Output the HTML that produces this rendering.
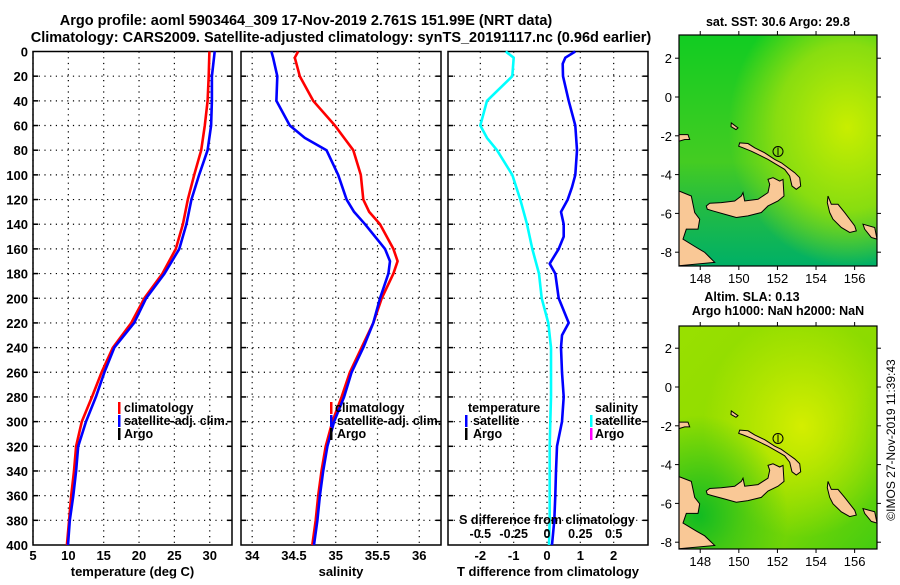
<!DOCTYPE html>
<html><head><meta charset="utf-8"><style>
body{margin:0;background:#fff;width:900px;height:580px;overflow:hidden}
svg{font-family:"Liberation Sans",sans-serif;font-weight:bold}
</style></head><body>
<svg id="c" width="900" height="580" viewBox="0 0 900 580">
<defs>
<radialGradient id="sstY" cx="0.85" cy="0.4" r="0.6"><stop offset="0" stop-color="#c8ee00"/><stop offset="0.6" stop-color="#88dd10"/><stop offset="1" stop-color="#88dd10" stop-opacity="0"/></radialGradient>
<linearGradient id="sstB" x1="0" y1="0" x2="0" y2="1"><stop offset="0" stop-color="#11cc22"/><stop offset="0.55" stop-color="#44cc22"/><stop offset="0.75" stop-color="#22bb44"/><stop offset="1" stop-color="#00b066"/></linearGradient>
<radialGradient id="slaY" cx="0.62" cy="0.45" r="0.5"><stop offset="0" stop-color="#d4ee00"/><stop offset="1" stop-color="#d4ee00" stop-opacity="0"/></radialGradient>
<linearGradient id="slaB" x1="0" y1="0" x2="1" y2="1"><stop offset="0" stop-color="#99e000"/><stop offset="0.6" stop-color="#8ada00"/><stop offset="1" stop-color="#44cc11"/></linearGradient>
<radialGradient id="slaG" cx="0.1" cy="0.85" r="0.45"><stop offset="0" stop-color="#11bb22"/><stop offset="1" stop-color="#11bb22" stop-opacity="0"/></radialGradient>
</defs>
<text x="306" y="25" font-size="14.5" text-anchor="middle">Argo profile: aoml 5903464_309 17-Nov-2019 2.761S 151.99E (NRT data)</text>
<text x="341" y="42" font-size="14.5" text-anchor="middle">Climatology: CARS2009. Satellite-adjusted climatology: synTS_20191117.nc (0.96d earlier)</text>
<g id="p1"></g>
<g id="p2"></g>
<g id="p3"></g>
<g id="m1"></g>
<g id="m2"></g>
<text transform="translate(895,440) rotate(-90)" font-size="12" font-weight="normal" text-anchor="middle">©IMOS 27-Nov-2019 11:39:43</text>
</svg>
<script>
const depthsT=[0,20,40,60,80,100,120,140,160,180,200,220,240,260,280,300,320,340,360,380,400];
const tempClim=[29.95,29.85,29.7,29.3,28.8,27.8,26.9,26.2,25.2,23.3,20.75,18.9,16.3,14.7,13.35,11.9,11.1,10.8,10.4,10.1,9.8];
const tempSat=[30.7,30.3,30.3,30.2,29.7,28.5,27.4,26.7,25.7,23.6,21,19.3,16.5,15.1,13.9,12.5,11.4,11.1,10.7,10.2,9.95];
const depthsS=[0,5,20,40,60,70,80,100,120,130,140,160,170,180,200,220,240,260,280,300,320,340,360,380,400];
const salClim=[34.55,34.51,34.57,34.73,34.99,35.10,35.21,35.30,35.33,35.40,35.53,35.69,35.74,35.69,35.55,35.45,35.31,35.17,35.07,34.96,34.88,34.83,34.79,34.76,34.72];
const salSat=[34.23,34.25,34.30,34.29,34.45,34.63,34.89,35.03,35.13,35.22,35.35,35.59,35.65,35.63,35.53,35.45,35.33,35.19,35.1,34.98,34.9,34.85,34.81,34.78,34.74];
const depthsDT=[0,5,10,20,40,60,80,100,110,120,130,140,150,160,172,180,200,220,230,240,260,280,300,320,340,360,380,400];
const tDiff=[0.85,0.55,0.47,0.48,0.65,0.85,0.9,0.85,0.75,0.62,0.42,0.5,0.5,0.35,0.08,0.25,0.35,0.65,0.45,0.42,0.45,0.5,0.45,0.3,0.27,0.25,0.22,0.15];
const depthsDS=[0,5,20,40,60,70,80,100,120,140,160,180,200,220,240,260,280,300,320,340,360,380,400];
const sDiff=[-0.31,-0.25,-0.26,-0.45,-0.5,-0.45,-0.375,-0.26,-0.2,-0.15,-0.11,-0.06,-0.04,0.01,0.03,0.03,0.03,0.025,0.02,0.02,0.02,0.02,0.015];
const depthTicks=[0,20,40,60,80,100,120,140,160,180,200,220,240,260,280,300,320,340,360,380,400];
const tempTicks=[5,10,15,20,25,30];
const salTicks=[34,34.5,35,35.5,36];
const tdTicks=[-2,-1,0,1,2];
const sdTicks=[-0.5,-0.25,0,0.25,0.5];

const NS='http://www.w3.org/2000/svg';
function mk(parent,tag,at,txt){const e=document.createElementNS(NS,tag);for(const k in at)e.setAttribute(k,at[k]);if(txt!==undefined)e.textContent=txt;parent.appendChild(e);return e;}
const Y0=51.5,Y1=545;
const yS=d=>Y0+d*(Y1-Y0)/400;

function panel(g,x0,x1,lo,hi,ticks,fmt,showY,xlabel){
  const xS=v=>x0+(v-lo)/(hi-lo)*(x1-x0);
  depthTicks.forEach(d=>{const y=yS(d);
    if(d>0&&d<400){const l=mk(g,'line',{x1:x0,x2:x1,y1:y,y2:y,stroke:'#000','stroke-width':1.2,'stroke-dasharray':'1.2 4.5'});
    
    mk(g,'line',{x1:x0,x2:x0+5,y1:y,y2:y,stroke:'#000','stroke-width':1.5});
    mk(g,'line',{x1:x1-5,x2:x1,y1:y,y2:y,stroke:'#000','stroke-width':1.5});}
    if(showY){const t=mk(g,'text',{x:28,y:y+5,'font-size':13,'text-anchor':'end'},d);
    }
  });
  ticks.forEach(v=>{const x=xS(v);
    const l=mk(g,'line',{x1:x,x2:x,y1:Y0,y2:Y1,stroke:'#000','stroke-width':1.2,'stroke-dasharray':'1.2 4.5'});
    
    const t=mk(g,'text',{x:x,y:560,'font-size':13,'text-anchor':'middle'},fmt(v));
    });
  const r=mk(g,'rect',{x:x0,y:Y0,width:x1-x0,height:Y1-Y0,fill:'none',stroke:'#000','stroke-width':1.5});
  
  const xl=mk(g,'text',{x:(x0+x1)/2,y:576,'font-size':13,'text-anchor':'middle'},xlabel);
  
  return xS;
}
function line(g,xS,vals,depths,color,name){
  const pts=vals.map((v,i)=>xS(v).toFixed(1)+','+yS(depths[i]).toFixed(1)).join(' ');
  const p=mk(g,'polyline',{points:pts,fill:'none',stroke:color,'stroke-width':2.6,'stroke-linejoin':'round'});
  
}
function legend(g,x,y,color,label,textX){
  mk(g,'rect',{x:x,y:y-10,width:2.5,height:12,fill:color});
  const t=mk(g,'text',{x:textX!==undefined?textX:x+6,y:y,'font-size':12.5},label);
  
}
const p1=document.getElementById('p1'),p2=document.getElementById('p2'),p3=document.getElementById('p3');
const x1S=panel(p1,33,232,5,33.15,tempTicks,v=>v,true,'temperature (deg C)');
line(p1,x1S,tempClim,depthsT,'#ff0000','temp-climatology-line');
line(p1,x1S,tempSat,depthsT,'#0000ff','temp-satellite-line');
legend(p1,118,412,'#f00','climatology');legend(p1,118,425,'#00f','satellite-adj. clim.');legend(p1,118,438,'#000','Argo');
const x2S=panel(p2,241,441,33.866,36.26,salTicks,v=>v,false,'salinity');
line(p2,x2S,salClim,depthsS,'#ff0000','sal-climatology-line');
line(p2,x2S,salSat,depthsS,'#0000ff','sal-satellite-line');
legend(p2,330,412,'#f00','climatology',335);legend(p2,330,425,'#00f','satellite-adj. clim.',337);legend(p2,330,438,'#000','Argo',337);
const x3S=panel(p3,448,648,-2.97,3.03,tdTicks,v=>v,false,'T difference from climatology');
const xSd=v=>x3S(v*4);
line(p3,xSd,sDiff,depthsDS,'#00ffff','s-diff-satellite-line');
line(p3,x3S,tDiff,depthsDT,'#0000ff','t-diff-satellite-line');
let tt=mk(p3,'text',{x:468,y:412,'font-size':12.5},'temperature');
tt=mk(p3,'text',{x:595,y:412,'font-size':12.5},'salinity');
legend(p3,465,425,'#00f','satellite',473);legend(p3,465,438,'#000','Argo',473);
legend(p3,590,425,'#0ff','satellite',595);legend(p3,590,438,'#f0f','Argo',595);
tt=mk(p3,'text',{x:547,y:524,'font-size':12.5,'text-anchor':'middle'},'S difference from climatology');
sdTicks.forEach(v=>{const t=mk(p3,'text',{x:xSd(v),y:538,'font-size':12.5,'text-anchor':'middle'},v);
});

const lands=[
[[27.3,171.7],[30.7,169],[42.3,168.3],[55.7,166.7],[62.3,161.7],[64,158.3],[65.7,166.7],[79,165],[89,158.3],[90.7,150],[89,145],[94,143.3],[100.7,146.7],[104,145],[105,161.7],[99,166.7],[89,171.7],[82.3,178.3],[69,181.7],[57.3,183.3],[45.7,180],[34,176.7],[28.3,175]],
[[60.7,108.3],[69,109],[75.7,113.3],[85.7,118.3],[95.7,125],[102.3,128.3],[109,133.3],[115.7,138.3],[120.7,143.3],[121.7,151.7],[117.3,155],[113,151.7],[110.7,141.7],[105.7,135],[97.3,130],[89,125],[79,120],[72.3,116.7],[64,113.3],[59.7,111.7]],
[[0,156.7],[12.3,161.7],[15.7,178.3],[20.7,185],[19,195],[7.3,195],[4,205],[17.3,213.3],[25.7,218.3],[30.7,223.3],[35.7,228.3],[0,231.7]],
[[0,100],[9,100],[10.7,105],[5.7,105],[0,106.7]],
[[149,161.7],[152.3,170],[159,170],[165.7,178.3],[175.7,191.7],[177.3,196.7],[170.7,198.3],[162.3,193.3],[154,185],[150.7,178.3],[148.3,168.3]],
[[184,190],[195.7,193.3],[198,205],[192.3,203.3],[185.7,195]],
[[52.3,88.3],[59,93.3],[57,95],[52,92]]];
const latTicks=[2,0,-2,-4,-6,-8],lonTicks=[148,150,152,154,156];
function map(g,ox,oy,h,lat0,fills,titles){
  const W=198;
  const lonX=l=>ox+(l-146.9)*19.3, latY=l=>lat0-l*19.4;
  fills.forEach(f=>mk(g,'rect',{x:ox,y:oy,width:W,height:h,fill:f}));
  const sc=h/232;
  lands.forEach(poly=>{const p=mk(g,'polygon',{points:poly.map(q=>(ox+q[0])+','+(oy+q[1]*sc)).join(' '),fill:'#f9c896',stroke:'#000','stroke-width':1});
  });
  const m=mk(g,'circle',{cx:ox+99,cy:oy+117*sc,r:5,fill:'none',stroke:'#000','stroke-width':1});
  
  mk(g,'line',{x1:ox+99,x2:ox+99,y1:oy+117*sc-4,y2:oy+117*sc+4,stroke:'#000','stroke-width':1});
  const r=mk(g,'rect',{x:ox,y:oy,width:W,height:h,fill:'none',stroke:'#000','stroke-width':1.2});
  
  latTicks.forEach(v=>{const y=latY(v);
    mk(g,'line',{x1:ox-4,x2:ox,y1:y,y2:y,stroke:'#000'});mk(g,'line',{x1:ox+W,x2:ox+W+4,y1:y,y2:y,stroke:'#000'});
    const t=mk(g,'text',{x:ox-7,y:y+5,'font-size':13,'font-weight':'normal','text-anchor':'end'},v);
    });
  lonTicks.forEach(v=>{const x=lonX(v);
    mk(g,'line',{x1:x,x2:x,y1:oy-4,y2:oy,stroke:'#000'});mk(g,'line',{x1:x,x2:x,y1:oy+h,y2:oy+h+4,stroke:'#000'});
    const t=mk(g,'text',{x:x,y:oy+h+17,'font-size':13,'font-weight':'normal','text-anchor':'middle'},v);
    });
  titles.forEach(tt=>{const t=mk(g,'text',{x:tt[0],y:tt[1],'font-size':12.5,'text-anchor':'middle'},tt[2]);
    });
}
map(document.getElementById('m1'),679,35,231,97,['url(#sstB)','url(#sstY)'],[[778,26,'sat. SST: 30.6 Argo: 29.8']]);
map(document.getElementById('m2'),679,326,223,387,['url(#slaB)','url(#slaY)','url(#slaG)'],[[752,301,'Altim. SLA: 0.13'],[778,315,'Argo h1000: NaN h2000: NaN']]);
</script>
</body></html>
